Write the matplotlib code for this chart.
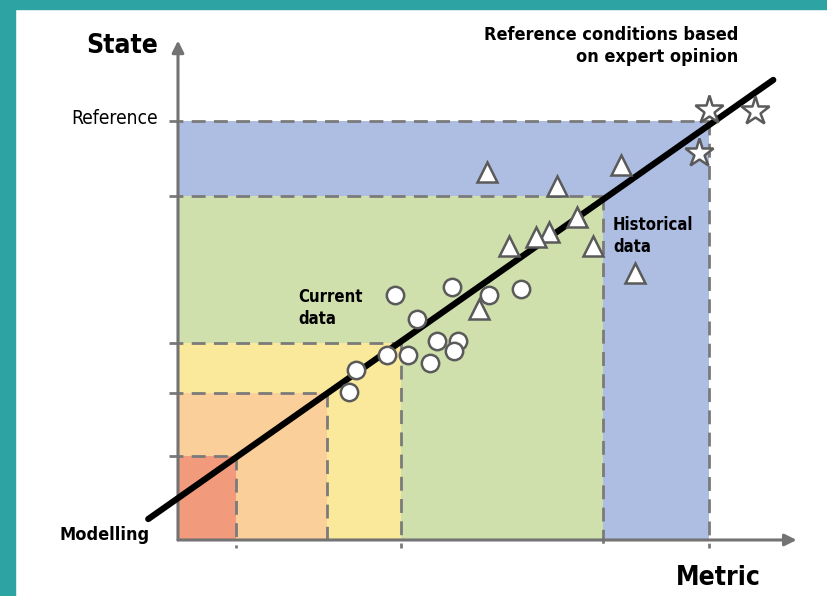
import matplotlib.pyplot as plt
from matplotlib.patches import Rectangle

plt.rcParams['font.family'] = ['DejaVu Sans']
plt.rcParams['font.stretch'] = 'condensed'

# class boundaries (metric, state), from reference outward
metric_bounds = [11, 28, 42, 80, 100]
state_bounds = [20, 35, 47, 82, 100]
class_colors = ['#f29a7c', '#fbcf9a', '#fbe99b', '#d0e0ad', '#aebee2']

# current data (circles)
cur_x = [40.9, 51.6, 58.6, 64.6, 45.0, 48.8, 52.7, 52.0, 39.4, 43.3, 47.5, 33.5, 32.2]
cur_y = [58.5, 60.4, 58.5, 59.9, 52.7, 47.5, 47.5, 45.1, 44.2, 44.2, 42.2, 40.6, 35.3]

# historical data (triangles)
hist_x = [58.2, 71.4, 83.4, 75.1, 69.9, 67.4, 62.3, 78.2, 86.1, 56.7]
hist_y = [87.8, 84.5, 89.5, 77.1, 73.5, 72.3, 70.2, 70.2, 63.7, 55.1]

# expert opinion (stars)
exp_x = [100.0, 108.7, 98.1]
exp_y = [102.6, 102.4, 92.4]

# modelling line ends
model_x = [-5.6, 112.1]
model_y = [5.0, 109.8]

fig = plt.figure(figsize=(8.28, 5.96), dpi=100)
ax = fig.add_axes([0, 0, 1, 1])
ax.set_xlim(-33.52, 122.41)
ax.set_ylim(-13.37, 128.88)
ax.axis('off')

# teal frame
fig.patches.append(Rectangle((0, 0), 15 / 828, 1, transform=fig.transFigure, color='#2ea3a3', zorder=0))
fig.patches.append(Rectangle((0, 1 - 9 / 596), 1, 9 / 596, transform=fig.transFigure, color='#2ea3a3', zorder=0))

# coloured classes, largest first
for mx, sy, c in reversed(list(zip(metric_bounds, state_bounds, class_colors))):
    ax.add_patch(Rectangle((0, 0), mx, sy, facecolor=c, edgecolor='none', zorder=1))

dash = dict(color='#7a7a7a', lw=2.0, dashes=(5, 3), zorder=2)
for mx, sy in zip(metric_bounds, state_bounds):
    ax.plot([-1.6, mx], [sy, sy], **dash)
    ax.plot([mx, mx], [sy, -1.9], **dash)

# axes with arrows
arr = dict(arrowstyle='-|>,head_width=0.35,head_length=0.7', color='#737373', lw=2.2, shrinkA=0, shrinkB=0)
ax.annotate('', xy=(116.5, 0), xytext=(0, 0), arrowprops=arr, zorder=3)
ax.annotate('', xy=(0, 119.2), xytext=(0, 0), arrowprops=arr, zorder=3)

ax.plot(model_x, model_y, color='black', lw=4.5, solid_capstyle='round', zorder=4)

mk = dict(linestyle='none', markerfacecolor='white', markeredgecolor='#5a5a5a', markeredgewidth=1.8, zorder=5)
ax.plot(cur_x, cur_y, marker='o', markersize=12.5, **mk)
ax.plot(hist_x, hist_y, marker='^', markersize=14, **mk)
ax.plot(exp_x, exp_y, marker='*', markersize=21, **mk)

ax.text(-3.8, 117.9, 'State', ha='right', va='center', fontsize=19, fontweight='bold')
ax.text(-3.8, 100.5, 'Reference', ha='right', va='center', fontsize=13.8)
ax.text(101.7, -9.1, 'Metric', ha='center', va='center', fontsize=19, fontweight='bold')
ax.text(-5.3, 1.2, 'Modelling', ha='right', va='center', fontsize=13, fontweight='bold')
ax.text(22.6, 55.4, 'Current\ndata', ha='left', va='center', fontsize=12, fontweight='bold', linespacing=1.25)
ax.text(81.9, 72.6, 'Historical\ndata', ha='left', va='center', fontsize=12, fontweight='bold', linespacing=1.3)
ax.text(105.6, 117.9, 'Reference conditions based\non expert opinion', ha='right', va='center',
        fontsize=13, fontweight='bold', multialignment='right', linespacing=1.3)

fig.savefig('out.png', dpi=100, facecolor='white')
